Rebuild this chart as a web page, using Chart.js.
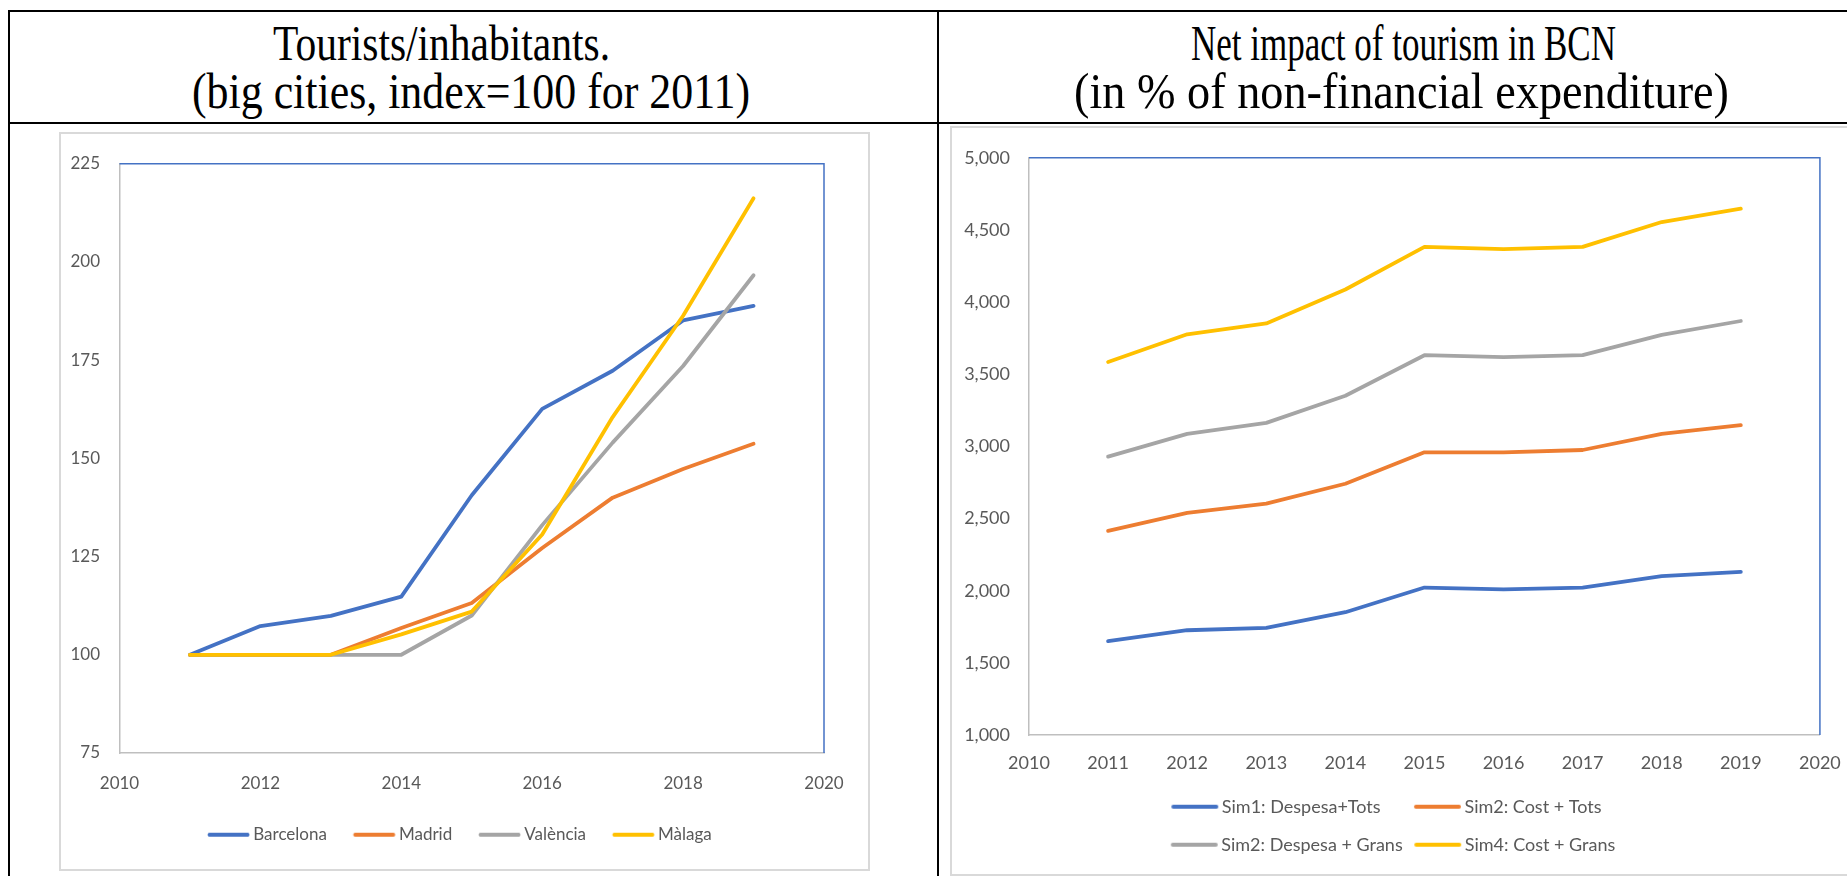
<!DOCTYPE html>
<html><head><meta charset="utf-8">
<script src="https://cdn.jsdelivr.net/npm/chart.js@4.4.1/dist/chart.umd.min.js"></script>
<style>
html,body{margin:0;padding:0;background:#fff;}
body{width:1847px;height:876px;overflow:hidden;position:relative;}
.rule{position:absolute;background:#000;}
.frame{position:absolute;border:2px solid #d9d9d9;box-sizing:border-box;background:#fff;}
.frame canvas{position:absolute;left:0;top:0;}
.title{position:absolute;white-space:nowrap;font-family:'Liberation Serif',serif;font-size:50px;line-height:50px;color:#000;transform-origin:0 0;}
</style></head><body>
<div class="rule" style="left:8px;top:10px;width:1839px;height:2px"></div>
<div class="rule" style="left:8px;top:10px;width:2px;height:866px"></div>
<div class="rule" style="left:8px;top:122px;width:1839px;height:2px"></div>
<div class="rule" style="left:937px;top:10px;width:2px;height:866px"></div>

<span class="title" data-x0="273" data-x1="610" data-base="60">Tourists/inhabitants.</span>
<span class="title" data-x0="192" data-x1="750" data-base="108">(big cities, index=100 for 2011)</span>
<span class="title" data-x0="1191" data-x1="1616" data-base="60">Net impact of tourism in BCN</span>
<span class="title" data-x0="1074" data-x1="1729" data-base="108">(in % of non-financial expenditure)</span>

<div class="frame" style="left:59px;top:132px;width:811px;height:739px"><canvas id="c1" width="807" height="735"></canvas></div>
<div class="frame" style="left:950px;top:126px;width:910px;height:750px"><canvas id="c2" width="906" height="746"></canvas></div>

<script>
// ---------- data ----------
const years = [2011, 2012, 2013, 2014, 2015, 2016, 2017, 2018, 2019];

const cityNames = ['Barcelona', 'Madrid', 'València', 'Màlaga'];
const barcelona = [100, 107.3, 109.9, 114.8, 140.6, 162.6, 172.3, 185.1, 188.8];
const madrid    = [100, 100, 100, 106.8, 113.2, 127.2, 140.0, 147.3, 153.7];
const valencia  = [100, 100, 100, 100, 110.0, 133.0, 154.0, 173.5, 196.6];
const malaga    = [100, 100, 100, 105.2, 111.0, 130.6, 160.5, 186.3, 216.2];

const simNames = ['Sim1: Despesa+Tots', 'Sim2: Cost + Tots', 'Sim2: Despesa + Grans', 'Sim4: Cost + Grans'];
const sim1DespesaTots  = [1650, 1726, 1742, 1851, 2022, 2009, 2022, 2101, 2131];
const sim2CostTots     = [2415, 2540, 2603, 2741, 2959, 2958, 2975, 3087, 3147];
const sim2DespesaGrans = [2929, 3087, 3163, 3351, 3632, 3618, 3632, 3773, 3869];
const sim4CostGrans    = [3585, 3777, 3852, 4087, 4383, 4367, 4383, 4555, 4647];

const leftYTicks  = {min: 75, max: 225, step: 25};
const leftXTicks  = {min: 2010, max: 2020, step: 2};
const rightYTicks = {min: 1000, max: 5000, step: 500};
const rightXTicks = {min: 2010, max: 2020, step: 1};

// ---------- styles ----------
const COLORS = ['#4472C4', '#ED7D31', '#A5A5A5', '#FFC000'];
const TXT = '#595959';
const AXIS = '#BFBFBF';

// titles: fit each line to its measured span
document.querySelectorAll('.title').forEach(el => {
  const w = el.getBoundingClientRect().width;
  const x0 = +el.dataset.x0, x1 = +el.dataset.x1, base = +el.dataset.base;
  el.style.left = x0 + 'px';
  el.style.top = (base - 41.9) + 'px';
  el.style.transform = 'scaleX(' + ((x1 - x0) / w) + ')';
});

function swatch(color, B, half, len, gap, lw) {
  const end = B + half - gap, start = end - len, c = B / 2;
  const h = Math.ceil(Math.max(c - start, end - c)) + 2;
  const cv = document.createElement('canvas');
  cv.width = 2 * h; cv.height = 10;
  const g = cv.getContext('2d');
  g.strokeStyle = color; g.lineWidth = lw; g.lineCap = 'round';
  g.beginPath();
  g.moveTo(h + (start - c) + lw / 2, 5);
  g.lineTo(h + (end - c) - lw / 2, 5);
  g.stroke();
  return cv;
}

const frameBorders = {
  id: 'frameBorders',
  afterDatasetsDraw(chart, args, opts) {
    const {ctx, chartArea: a} = chart;
    ctx.save();
    ctx.strokeStyle = opts.color; ctx.lineWidth = opts.width;
    ctx.beginPath();
    ctx.moveTo(a.left, a.top); ctx.lineTo(a.right, a.top); ctx.lineTo(a.right, a.bottom);
    ctx.stroke();
    ctx.restore();
  }
};

function makeDatasets(names, series, sw) {
  return names.map((n, i) => ({
    label: n,
    data: years.map((y, j) => ({x: y, y: series[i][j]})),
    borderColor: COLORS[i], backgroundColor: COLORS[i],
    borderWidth: 3.8, tension: 0, fill: false,
    borderJoinStyle: 'round', borderCapStyle: 'round',
    pointRadius: 0, pointHoverRadius: 0, pointStyle: sw[i],
    order: names.length - i
  }));
}

// ---------- left chart ----------
const F1 = {family: 'Lato', size: 17};
const B1 = 63.5, P1 = 0;
const sw1 = COLORS.map(c => swatch(c, B1, F1.size / 2, 42, 3.7, 4));
new Chart(document.getElementById('c1'), {
  type: 'line',
  data: {datasets: makeDatasets(cityNames, [barcelona, madrid, valencia, malaga], sw1)},
  options: {
    responsive: false, animation: false, devicePixelRatio: 1,
    layout: {padding: {left: 8, right: 44, top: 26, bottom: 15.8}},
    scales: {
      x: {type: 'linear', min: leftXTicks.min, max: leftXTicks.max,
          ticks: {stepSize: leftXTicks.step, color: TXT, font: F1, padding: 20.8, maxRotation: 0, autoSkip: false, callback: v => String(v)},
          grid: {display: false, drawTicks: false}, border: {display: true, color: AXIS, width: 1.5},
          afterFit: s => { s.height = 73.2; }},
      y: {type: 'linear', min: leftYTicks.min, max: leftYTicks.max,
          ticks: {stepSize: leftYTicks.step, color: TXT, font: F1, padding: 19.5, callback: v => String(v)},
          grid: {display: false, drawTicks: false}, border: {display: true, color: AXIS, width: 1.5},
          afterFit: s => { s.width = 50.5; }}
    },
    plugins: {
      legend: {position: 'bottom', align: 'center',
        labels: {usePointStyle: true, pointStyleWidth: B1, padding: P1, color: TXT, font: F1,
                 sort: (a, b) => a.datasetIndex - b.datasetIndex}},
      tooltip: {enabled: false},
      frameBorders: {color: '#4472C4', width: 1.5}
    }
  },
  plugins: [frameBorders]
});

// ---------- right chart ----------
const F2 = {family: 'Lato', size: 18};
const P2 = 20;
const mctx = document.createElement('canvas').getContext('2d');
mctx.font = F2.size + 'px Lato';
const mw = t => mctx.measureText(t).width;
function padTo(t, target) {
  while (mw(t + ' ') <= target) t += ' ';
  while (mw(t + '\u200A') <= target) t += '\u200A';
  return t;
}
const col1W = Math.max(mw(simNames[0]), mw(simNames[2]));
const col2W = 339;
const padded = [padTo(simNames[0], col1W), padTo(simNames[1], col2W), padTo(simNames[2], col1W), padTo(simNames[3], col2W)];
const B2 = 214.5 - col1W;
const sw2 = COLORS.map(c => swatch(c, B2, F2.size / 2, 47, 3.5, 4));

new Chart(document.getElementById('c2'), {
  type: 'line',
  data: {datasets: makeDatasets(simNames, [sim1DespesaTots, sim2CostTots, sim2DespesaGrans, sim4CostGrans], sw2)},
  options: {
    responsive: false, animation: false, devicePixelRatio: 1,
    layout: {padding: {left: 0, right: 35, top: 22, bottom: 10.3}},
    scales: {
      x: {type: 'linear', min: rightXTicks.min, max: rightXTicks.max,
          ticks: {stepSize: rightXTicks.step, color: TXT, font: F2, padding: 17.2, maxRotation: 0, autoSkip: false, callback: v => String(v)},
          grid: {display: false, drawTicks: false}, border: {display: true, color: AXIS, width: 1.5},
          afterFit: s => { s.height = 42.7; }},
      y: {type: 'linear', min: rightYTicks.min, max: rightYTicks.max,
          ticks: {stepSize: rightYTicks.step, color: TXT, font: F2, padding: 19, callback: v => v.toLocaleString('en-US')},
          grid: {display: false, drawTicks: false}, border: {display: true, color: AXIS, width: 1.5},
          afterFit: s => { s.width = 77; }}
    },
    plugins: {
      legend: {position: 'bottom', align: 'end',
        labels: {usePointStyle: true, pointStyleWidth: B2, padding: P2, color: TXT, font: F2,
                 sort: (a, b) => a.datasetIndex - b.datasetIndex,
                 generateLabels: chart => {
                   const items = Chart.defaults.plugins.legend.labels.generateLabels(chart);
                   items.forEach(it => { it.text = padded[it.datasetIndex]; });
                   return items;
                 }}},
      tooltip: {enabled: false},
      frameBorders: {color: '#4472C4', width: 1.5}
    }
  },
  plugins: [frameBorders]
});
</script>
</body></html>
